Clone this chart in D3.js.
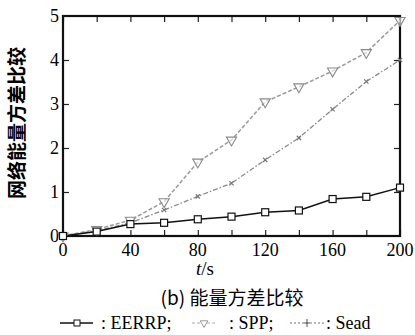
<!DOCTYPE html>
<html>
<head>
<meta charset="utf-8">
<script src="https://d3js.org/d3.v7.min.js"></script>
<style>
	body { margin: 0; background: #fff; }
	.serif { font-family: "Liberation Serif", "Times New Roman", Times, "DejaVu Serif", serif; }
</style>
</head>
<body>
<script>
	var width = 415;
	var height = 335;
	var margin = {left: 63, right: 15, top: 16, bottom: 99};

	// data
	var times = [0, 20, 40, 60, 80, 100, 120, 140, 160, 180, 200]
	var eerrp = [0, 0.1, 0.27, 0.3, 0.38, 0.44, 0.54, 0.58, 0.84, 0.89, 1.1]
	var spp = [0, 0.15, 0.36, 0.78, 1.68, 2.18, 3.05, 3.39, 3.75, 4.17, 4.9]
	var sead = [0, 0.12, 0.3, 0.59, 0.9, 1.2, 1.73, 2.23, 2.88, 3.51, 4.0]
	var xTicks = [0, 40, 80, 120, 160, 200]
	var yTicks = [0, 1, 2, 3, 4, 5]

	var svg = d3.select("body")
		.append("svg")
		.attr("width", width)
		.attr("height", height)

	var x = d3.scaleLinear()
		.domain([0, 200])
		.range([margin.left, width - margin.right])
	var y = d3.scaleLinear()
		.domain([0, 5])
		.range([height - margin.bottom, margin.top])

	var cjk = "'Noto Sans CJK SC', sans-serif"

	// inward ticks on all four sides
	var minor = d3.range(0, 201, 20)
	svg.append("g")
		.attr("transform", "translate(0," + y(0) + ")")
		.call(d3.axisBottom(x).tickValues(minor).tickSizeInner(-6).tickSizeOuter(0).tickFormat(""))
	svg.append("g")
		.attr("transform", "translate(0," + y(5) + ")")
		.call(d3.axisTop(x).tickValues(minor).tickSizeInner(-6).tickSizeOuter(0).tickFormat(""))
	svg.append("g")
		.attr("transform", "translate(" + x(0) + ",0)")
		.call(d3.axisLeft(y).tickValues([1, 2, 3, 4]).tickSizeInner(-6).tickSizeOuter(0).tickFormat(""))
	svg.append("g")
		.attr("transform", "translate(" + x(200) + ",0)")
		.call(d3.axisRight(y).tickValues([1, 2, 3, 4]).tickSizeInner(-6).tickSizeOuter(0).tickFormat(""))
	svg.selectAll(".domain").remove()
	svg.selectAll(".tick line").attr("stroke", "#222").attr("stroke-width", 1.2)

	// frame
	svg.append("rect")
		.attr("x", x(0))
		.attr("y", y(5))
		.attr("width", x(200) - x(0))
		.attr("height", y(0) - y(5))
		.attr("fill", "none")
		.attr("stroke", "#111")
		.attr("stroke-width", 2.2)

	// tick labels
	svg.selectAll(".xl")
		.data(xTicks)
		.enter()
		.append("text")
		.attr("class", "serif")
		.attr("x", d => x(d))
		.attr("y", y(0) + 20)
		.attr("text-anchor", "middle")
		.attr("font-size", 18)
		.text(d => d)
	svg.selectAll(".yl")
		.data(yTicks)
		.enter()
		.append("text")
		.attr("class", "serif")
		.attr("x", x(0) - 4)
		.attr("y", d => y(d) + 6)
		.attr("text-anchor", "end")
		.attr("font-size", 18)
		.text(d => d)

	// axis titles
	var xt = svg.append("text")
		.attr("class", "serif")
		.attr("x", 205)
		.attr("y", y(0) + 39)
		.attr("text-anchor", "middle")
		.attr("font-size", 19)
	xt.append("tspan").style("font-style", "italic").text("t")
	xt.append("tspan").text("/s")

	svg.append("text")
		.attr("transform", "translate(24," + 123 + ") rotate(-90)")
		.attr("text-anchor", "middle")
		.style("font-family", cjk)
		.style("font-weight", "bold")
		.style("font-size", "19px")
		.text("网络能量方差比较")

	// lines
	var line = function(vals) {
		return d3.line()
			.x((d, i) => x(times[i]))
			.y(d => y(d))(vals)
	}
	svg.append("path")
		.attr("d", line(sead))
		.attr("fill", "none")
		.attr("stroke", "#8a8a8a")
		.attr("stroke-width", 1.3)
		.attr("stroke-dasharray", "5,2,1.5,2")
	svg.append("path")
		.attr("d", line(spp))
		.attr("fill", "none")
		.attr("stroke", "#9a9a9a")
		.attr("stroke-width", 1.5)
		.attr("stroke-dasharray", "4,2")
	svg.append("path")
		.attr("d", line(eerrp))
		.attr("fill", "none")
		.attr("stroke", "#111")
		.attr("stroke-width", 1.5)

	// markers
	svg.selectAll(".sm")
		.data(sead)
		.enter()
		.append("path")
		.attr("transform", (d, i) => "translate(" + x(times[i]) + "," + y(d) + ") rotate(45)")
		.attr("d", "M-3,0H3M0,-3V3")
		.attr("stroke", "#777")
		.attr("stroke-width", 1.2)
	svg.selectAll(".tm")
		.data(spp)
		.enter()
		.append("path")
		.attr("transform", (d, i) => "translate(" + x(times[i]) + "," + y(d) + ") rotate(180)")
		.attr("d", d3.symbol().type(d3.symbolTriangle).size(45))
		.attr("fill", "#fff")
		.attr("fill-opacity", 0.6)
		.attr("stroke", "#8a8a8a")
		.attr("stroke-width", 1.1)
	svg.selectAll(".qm")
		.data(eerrp)
		.enter()
		.append("rect")
		.attr("x", (d, i) => x(times[i]) - 3.5)
		.attr("y", d => y(d) - 3.5)
		.attr("width", 7)
		.attr("height", 7)
		.attr("fill", "#fff")
		.attr("stroke", "#111")
		.attr("stroke-width", 1.2)

	// caption
	svg.append("text")
		.attr("x", 232)
		.attr("y", 305)
		.attr("text-anchor", "middle")
		.style("font-family", cjk)
		.style("font-size", "19px")
		.text("(b) 能量方差比较")

	// legend row
	var ly = 323
	var lg = svg.append("g")
	lg.append("line").attr("x1", 60).attr("x2", 93).attr("y1", ly).attr("y2", ly)
		.attr("stroke", "#111").attr("stroke-width", 1.3)
	lg.append("rect").attr("x", 74).attr("y", ly - 3).attr("width", 6).attr("height", 6)
		.attr("fill", "#fff").attr("stroke", "#111")
	lg.append("text").attr("class", "serif").attr("x", 101).attr("y", ly + 6)
		.attr("font-size", 18).text(": EERRP;")

	lg.append("line").attr("x1", 192).attr("x2", 215).attr("y1", ly).attr("y2", ly)
		.attr("stroke", "#aaa").attr("stroke-width", 1).attr("stroke-dasharray", "3,2")
	lg.append("path").attr("transform", "translate(204," + ly + ") rotate(180)")
		.attr("d", d3.symbol().type(d3.symbolTriangle).size(25))
		.attr("fill", "#fff").attr("stroke", "#999")
	lg.append("text").attr("class", "serif").attr("x", 229).attr("y", ly + 6)
		.attr("font-size", 18).text(": SPP;")

	lg.append("line").attr("x1", 290).attr("x2", 325).attr("y1", ly).attr("y2", ly)
		.attr("stroke", "#777").attr("stroke-width", 1).attr("stroke-dasharray", "2,2")
	lg.append("path").attr("transform", "translate(307," + ly + ")")
		.attr("d", "M-3,0H3M0,-4V4").attr("stroke", "#555")
	lg.append("text").attr("class", "serif").attr("x", 326).attr("y", ly + 6)
		.attr("font-size", 18).text(": Sead")
</script>
</body>
</html>
